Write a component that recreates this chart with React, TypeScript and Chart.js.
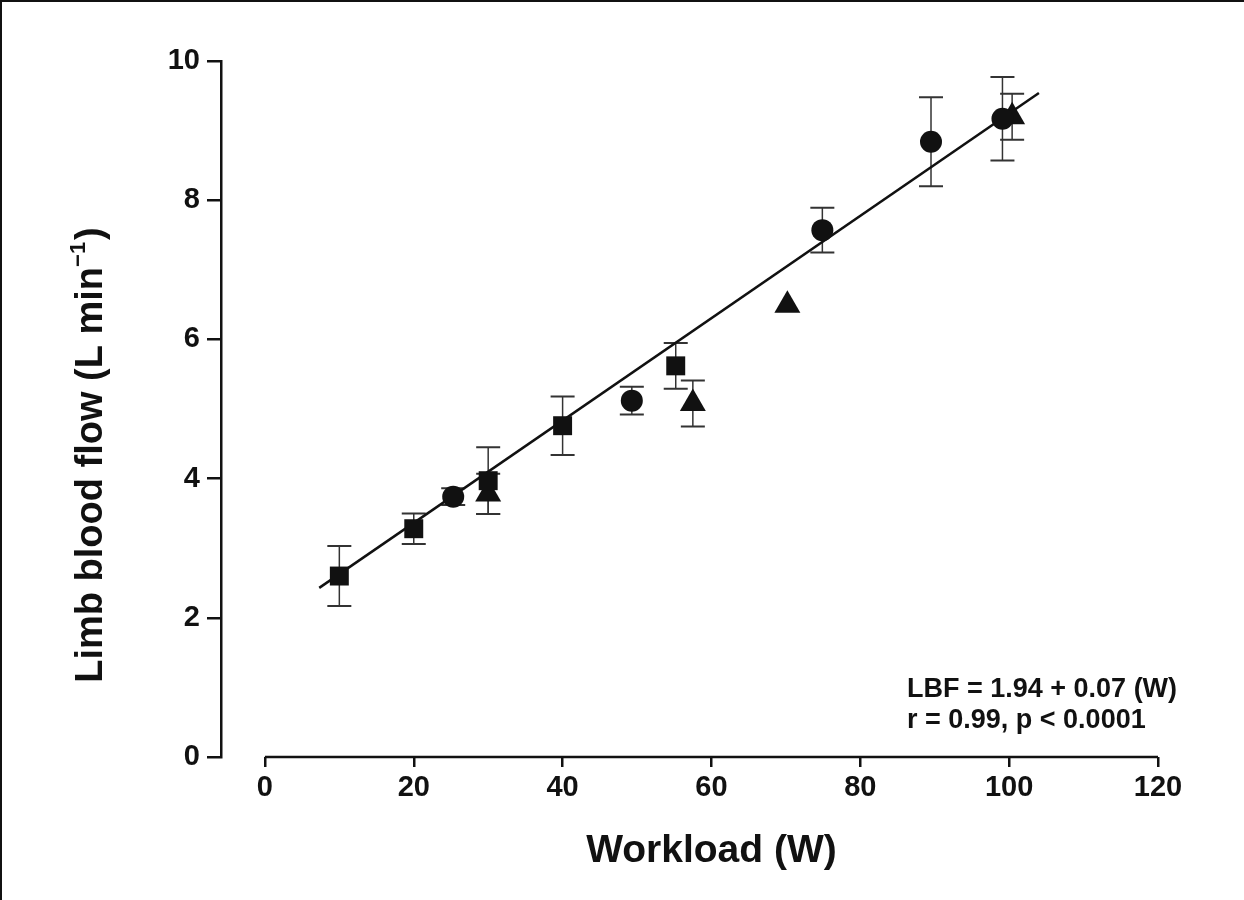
import React, { useEffect, useRef } from "react";
import { Chart, registerables } from "chart.js";

Chart.register(...registerables);

// ---- Data ----
const squareX = [10, 20, 30, 40, 55.2];
const squareY = [2.6, 3.28, 3.97, 4.76, 5.62];
const squareErr = [0.43, 0.22, 0.48, 0.42, 0.33];

const circleX = [25.3, 49.3, 74.9, 89.5, 99.1];
const circleY = [3.74, 5.12, 7.57, 8.84, 9.17];
const circleErr = [0.12, 0.2, 0.32, 0.64, 0.6];

const triX = [30, 57.5, 70.2, 100.4];
const triY = [3.78, 5.08, 6.49, 9.2];
const triErr = [0.29, 0.33, 0, 0.33];

const fitX = [7.3, 104];
const fitY = [2.43, 9.54];

const xTicks = [0, 20, 40, 60, 80, 100, 120];
const yTicks = [0, 2, 4, 6, 8, 10];

const xTitle = "Workload (W)";
const yTitleMain = "Limb blood flow (L min";
const yTitleSup = "\u22121";
const yTitleEnd = ")";
const noteLines = ["LBF = 1.94 + 0.07 (W)", "r = 0.99, p < 0.0001"];

const FONT = "'Liberation Sans', Arial, Helvetica, sans-serif";
const INK = "#111";

const toPts = (xs: number[], ys: number[]) => xs.map((x, i) => ({ x, y: ys[i] }));

const errorSets = [
  { xs: squareX, ys: squareY, es: squareErr },
  { xs: circleX, ys: circleY, es: circleErr },
  { xs: triX, ys: triY, es: triErr },
];

const decorPlugin = {
  id: "decor",
  beforeDatasetsDraw(chart: any) {
    const { ctx, scales } = chart;
    const xs = scales.x;
    const ys = scales.y;
    ctx.save();
    // x axis line from 0 to 120
    ctx.strokeStyle = INK;
    ctx.lineWidth = 2.5;
    ctx.beginPath();
    const y0 = ys.getPixelForValue(0);
    ctx.moveTo(xs.getPixelForValue(xTicks[0]), y0);
    ctx.lineTo(xs.getPixelForValue(xTicks[xTicks.length - 1]), y0);
    ctx.stroke();
    // error bars
    ctx.strokeStyle = "#333";
    for (const set of errorSets) {
      set.xs.forEach((xv, i) => {
        const e = set.es[i];
        if (!e) return;
        const px = xs.getPixelForValue(xv);
        const pt = ys.getPixelForValue(set.ys[i] + e);
        const pb = ys.getPixelForValue(set.ys[i] - e);
        ctx.lineWidth = 1.5;
        ctx.beginPath();
        ctx.moveTo(px, pt);
        ctx.lineTo(px, pb);
        ctx.stroke();
        ctx.lineWidth = 2;
        ctx.beginPath();
        ctx.moveTo(px - 12, pt);
        ctx.lineTo(px + 12, pt);
        ctx.moveTo(px - 12, pb);
        ctx.lineTo(px + 12, pb);
        ctx.stroke();
      });
    }
    ctx.restore();
  },
  afterDraw(chart: any) {
    const { ctx, scales } = chart;
    const xs = scales.x;
    ctx.save();
    ctx.fillStyle = INK;
    // frame (top and left)
    ctx.fillRect(0, 0, chart.width, 2);
    ctx.fillRect(0, 0, 2, chart.height);
    // x title
    ctx.font = `bold 39px ${FONT}`;
    ctx.textAlign = "center";
    ctx.textBaseline = "alphabetic";
    const cx = (xs.getPixelForValue(xTicks[0]) + xs.getPixelForValue(xTicks[xTicks.length - 1])) / 2;
    ctx.fillText(xTitle, cx, 862);
    // y title (rotated)
    ctx.save();
    ctx.translate(102, 455);
    ctx.rotate(-Math.PI / 2);
    ctx.textAlign = "left";
    const mainFont = `bold 38px ${FONT}`;
    const supFont = `bold 22px ${FONT}`;
    ctx.font = mainFont;
    const w1 = ctx.measureText(yTitleMain).width;
    const w3 = ctx.measureText(yTitleEnd).width;
    ctx.font = supFont;
    const w2 = ctx.measureText(yTitleSup).width;
    const total = w1 + w2 + w3 + 2;
    let x = -total / 2;
    ctx.font = mainFont;
    ctx.fillText(yTitleMain, x, 0);
    x += w1;
    ctx.font = supFont;
    ctx.fillText(yTitleSup, x, -17);
    x += w2 + 2;
    ctx.font = mainFont;
    ctx.fillText(yTitleEnd, x, 0);
    ctx.restore();
    // note
    ctx.font = `bold 27px ${FONT}`;
    ctx.textAlign = "left";
    ctx.fillText(noteLines[0], 907, 697);
    ctx.fillText(noteLines[1], 907, 728);
    ctx.restore();
  },
};

export default function App() {
  const ref = useRef<HTMLCanvasElement | null>(null);

  useEffect(() => {
    if (!ref.current) return;
    const chart = new Chart(ref.current, {
      type: "scatter",
      data: {
        datasets: [
          {
            type: "line",
            data: toPts(fitX, fitY),
            borderColor: INK,
            borderWidth: 2.5,
            pointRadius: 0,
            fill: false,
            order: 4,
          } as any,
          {
            data: toPts(squareX, squareY),
            pointStyle: "rect",
            pointRadius: 13.4,
            backgroundColor: INK,
            borderWidth: 0,
            order: 1,
          },
          {
            data: toPts(circleX, circleY),
            pointStyle: "circle",
            pointRadius: 11,
            backgroundColor: INK,
            borderWidth: 0,
            order: 2,
          },
          {
            data: toPts(triX, triY),
            pointStyle: "triangle",
            pointRadius: 15,
            backgroundColor: INK,
            borderWidth: 0,
            order: 3,
          },
        ],
      },
      options: {
        responsive: false,
        animation: false,
        events: [],
        layout: { padding: { left: 0, right: 86, top: 61, bottom: 0 } },
        plugins: {
          legend: { display: false },
          tooltip: { enabled: false },
        },
        scales: {
          x: {
            type: "linear",
            min: -5.9,
            max: 120,
            afterBuildTicks: (s: any) => {
              s.ticks = xTicks.map((v) => ({ value: v }));
            },
            afterFit: (s: any) => {
              s.height = 143;
            },
            grid: {
              drawOnChartArea: false,
              drawTicks: true,
              tickLength: 10,
              color: INK,
              lineWidth: 2.5,
            },
            border: { display: false },
            ticks: {
              color: INK,
              font: { family: FONT, size: 29, weight: "bold" },
              padding: 4,
              maxRotation: 0,
            },
          },
          y: {
            type: "linear",
            min: 0,
            max: 10,
            afterBuildTicks: (s: any) => {
              s.ticks = yTicks.map((v) => ({ value: v }));
            },
            afterFit: (s: any) => {
              s.width = 221;
            },
            grid: {
              drawOnChartArea: false,
              drawTicks: true,
              tickLength: 14,
              color: INK,
              lineWidth: 2.5,
            },
            border: { display: true, color: INK, width: 2.5 },
            ticks: {
              color: INK,
              font: { family: FONT, size: 29, weight: "bold" },
              padding: 7,
            },
          },
        },
      },
      plugins: [decorPlugin],
    } as any);
    return () => chart.destroy();
  }, []);

  return (
    <div style={{ position: "fixed", left: 0, top: 0, width: 1244, height: 900, background: "#fff" }}>
      <canvas ref={ref} width={1244} height={900} style={{ width: 1244, height: 900, display: "block" }} />
    </div>
  );
}
